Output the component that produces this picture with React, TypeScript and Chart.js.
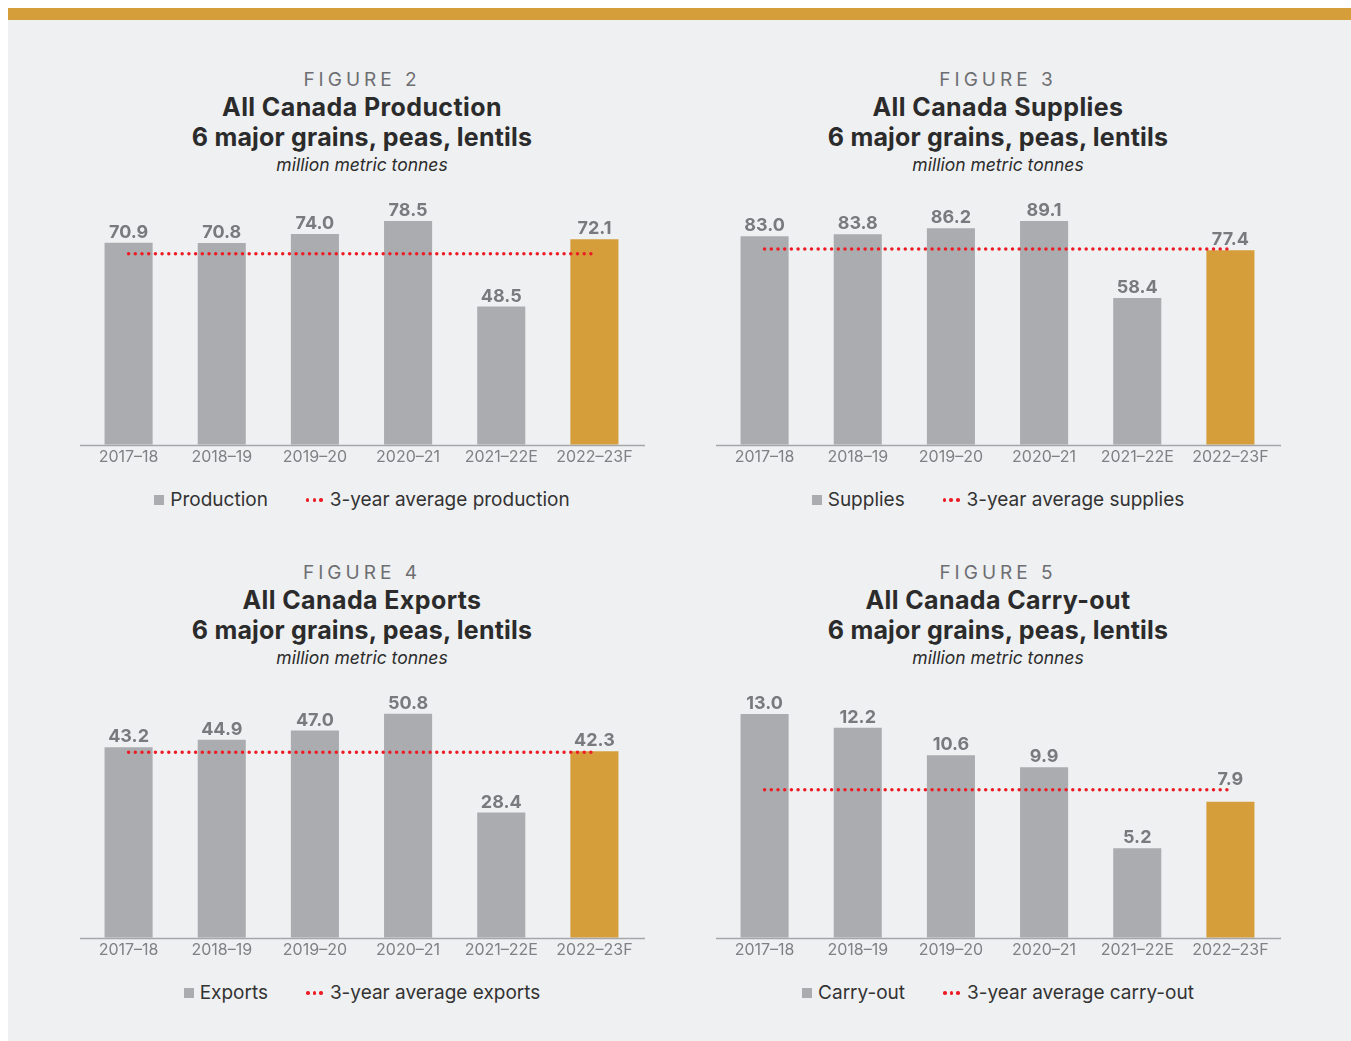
import React, { useEffect, useRef } from "react";
import { Chart, registerables } from "chart.js";

Chart.register(...registerables);

// ---------- data ----------
const categories = ["2017–18", "2018–19", "2019–20", "2020–21", "2021–22E", "2022–23F"];

const productionValues = [70.9, 70.8, 74.0, 78.5, 48.5, 72.1];
const productionAverage = [67.0, 67.0, 67.0, 67.0, 67.0, 67.0];

const suppliesValues = [83.0, 83.8, 86.2, 89.1, 58.4, 77.4];
const suppliesAverage = [77.9, 77.9, 77.9, 77.9, 77.9, 77.9];

const exportsValues = [43.2, 44.9, 47.0, 50.8, 28.4, 42.3];
const exportsAverage = [42.1, 42.1, 42.1, 42.1, 42.1, 42.1];

const carryOutValues = [13.0, 12.2, 10.6, 9.9, 5.2, 7.9];
const carryOutAverage = [8.6, 8.6, 8.6, 8.6, 8.6, 8.6];

// ---------- styles ----------
const GOLD = "#d69e3a";
const GRAY = "#abacaf";
const RED = "#ed1c24";
const BG = "#eff0f2";
const FONT = "Inter, 'Noto Sans', sans-serif";

type PanelProps = {
  figure: string;
  title: string;
  values: number[];
  average: number[];
  seriesLabel: string;
  averageLabel: string;
  yMax: number;
  left: number;
  top: number;
  centerX: number;
};

function BarPanel(props: PanelProps) {
  const ref = useRef<HTMLCanvasElement | null>(null);

  useEffect(() => {
    if (!ref.current) return;
    const values = props.values;
    const valueLabels = {
      id: "valueLabels",
      afterDatasetsDraw(chart: any) {
        const meta = chart.getDatasetMeta(0);
        const lineMeta = chart.getDatasetMeta(1);
        const ctx = chart.ctx;
        ctx.save();
        ctx.font = `bold 18px ${FONT}`;
        ctx.fillStyle = "#797a7d";
        ctx.textAlign = "center";
        ctx.textBaseline = "alphabetic";
        meta.data.forEach((bar: any, i: number) => {
          let y = bar.y - 5;
          const lineY = lineMeta.data[i] ? lineMeta.data[i].y : null;
          // lift the label above the dotted average line only when the two would collide
          if (lineY !== null && bar.y > lineY + 3 && y > lineY - 5 && y - 16 < lineY + 3) {
            y = lineY - 5;
          }
          ctx.fillText(values[i].toFixed(1), bar.x, y);
        });
        ctx.restore();
      },
    };
    const baseline = {
      id: "baseline",
      afterDatasetsDraw(chart: any) {
        const ctx = chart.ctx;
        const y = chart.chartArea.bottom + 0.75;
        ctx.save();
        ctx.strokeStyle = "#a5a6a9";
        ctx.lineWidth = 1.5;
        ctx.beginPath();
        ctx.moveTo(0, y);
        ctx.lineTo(chart.width, y);
        ctx.stroke();
        ctx.restore();
      },
    };
    const chart = new Chart(ref.current, {
      type: "bar",
      data: {
        labels: categories,
        datasets: [
          {
            type: "bar",
            label: props.seriesLabel,
            data: values,
            backgroundColor: categories.map((_, i) => (i === categories.length - 1 ? GOLD : GRAY)),
            barPercentage: 0.516,
            categoryPercentage: 1,
            order: 2,
          },
          {
            type: "line",
            label: props.averageLabel,
            data: props.average,
            borderColor: RED,
            borderWidth: 3.5,
            borderDash: [0, 6.7],
            borderCapStyle: "round",
            pointRadius: 0,
            fill: false,
            tension: 0,
            order: 1,
          },
        ],
      } as any,
      options: {
        animation: false,
        responsive: false,
        maintainAspectRatio: false,
        layout: { padding: { top: 15, left: 2, right: 4, bottom: 0 } },
        plugins: {
          legend: { display: false },
          tooltip: { enabled: false },
        },
        scales: {
          x: {
            grid: { display: false, drawTicks: false },
            border: { display: false },
            ticks: {
              color: "#808184",
              font: { family: FONT, size: 16 },
              padding: 3,
              maxRotation: 0,
              autoSkip: false,
            },
          },
          y: { display: false, min: 0, max: props.yMax },
        },
      } as any,
      plugins: [valueLabels, baseline],
    });
    return () => chart.destroy();
  }, []);

  const blockLeft = props.centerX - 300;
  return (
    <>
      <div
        style={{
          position: "absolute",
          left: blockLeft,
          top: props.top - 107,
          width: 600,
          textAlign: "center",
          fontFamily: FONT,
        }}
      >
        <div style={{ fontSize: 19, lineHeight: "24px", letterSpacing: 4, color: "#6d6e71" }}>{props.figure}</div>
        <div style={{ fontSize: 25, lineHeight: "30px", fontWeight: 700, letterSpacing: 0.4, color: "#2b2b2b" }}>
          {props.title}
        </div>
        <div style={{ fontSize: 25, lineHeight: "30px", fontWeight: 700, letterSpacing: 0.2, color: "#2b2b2b" }}>
          6 major grains, peas, lentils
        </div>
        <div
          style={{ fontSize: 17.5, lineHeight: "22px", marginTop: 1.5, fontStyle: "italic", color: "#2b2b2b" }}
        >
          million metric tonnes
        </div>
      </div>
      <canvas
        ref={ref}
        width={565}
        height={295}
        style={{ position: "absolute", left: props.left, top: props.top, width: 565, height: 295 }}
      />
      <div
        style={{
          position: "absolute",
          left: blockLeft,
          top: props.top + 313,
          width: 600,
          display: "flex",
          justifyContent: "center",
          alignItems: "center",
          fontFamily: FONT,
          fontSize: 19,
          lineHeight: "24px",
          color: "#333333",
        }}
      >
        <span style={{ display: "inline-block", width: 10, height: 10, background: GRAY, marginRight: 6 }} />
        <span>{props.seriesLabel}</span>
        <span style={{ display: "inline-flex", marginLeft: 38, marginRight: 7, gap: 3.2 }}>
          <span style={{ width: 3.5, height: 3.5, borderRadius: "50%", background: RED }} />
          <span style={{ width: 3.5, height: 3.5, borderRadius: "50%", background: RED }} />
          <span style={{ width: 3.5, height: 3.5, borderRadius: "50%", background: RED }} />
        </span>
        <span>{props.averageLabel}</span>
      </div>
    </>
  );
}

export default function App() {
  useEffect(() => {
    document.documentElement.style.overflow = "hidden";
  }, []);
  return (
    <div style={{ position: "fixed", left: 8, top: 8, width: 1343, height: 1033, background: BG }}>
      <div style={{ position: "absolute", left: 0, top: 0, width: 1343, height: 12, background: GOLD }} />
      <BarPanel
        figure="FIGURE 2"
        title="All Canada Production"
        values={productionValues}
        average={productionAverage}
        seriesLabel="Production"
        averageLabel="3-year average production"
        yMax={89.4}
        left={72}
        top={167}
        centerX={354}
      />
      <BarPanel
        figure="FIGURE 3"
        title="All Canada Supplies"
        values={suppliesValues}
        average={suppliesAverage}
        seriesLabel="Supplies"
        averageLabel="3-year average supplies"
        yMax={101.4}
        left={708}
        top={167}
        centerX={990}
      />
      <BarPanel
        figure="FIGURE 4"
        title="All Canada Exports"
        values={exportsValues}
        average={exportsAverage}
        seriesLabel="Exports"
        averageLabel="3-year average exports"
        yMax={57.8}
        left={72}
        top={660}
        centerX={354}
      />
      <BarPanel
        figure="FIGURE 5"
        title="All Canada Carry-out"
        values={carryOutValues}
        average={carryOutAverage}
        seriesLabel="Carry-out"
        averageLabel="3-year average carry-out"
        yMax={14.8}
        left={708}
        top={660}
        centerX={990}
      />
    </div>
  );
}
